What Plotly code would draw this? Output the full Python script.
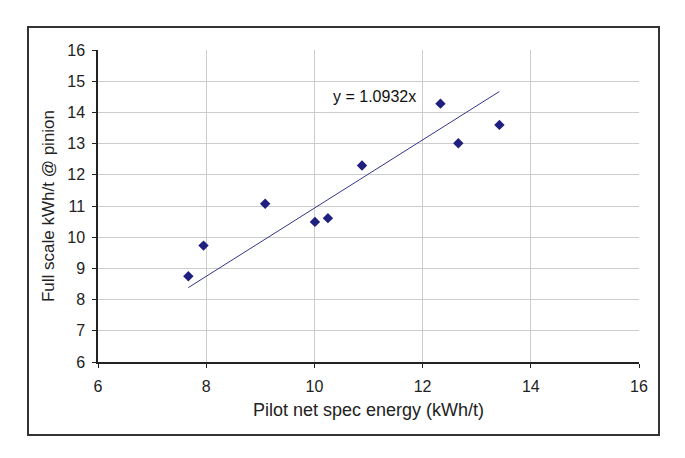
import plotly.graph_objects as go

pilot_x = [7.67, 7.95, 9.09, 10.01, 10.25, 10.88, 12.33, 12.66, 13.42]
full_y = [8.75, 9.73, 11.07, 10.49, 10.61, 12.30, 14.28, 13.01, 13.60]
slope = 1.0932
trend_x = [min(pilot_x), max(pilot_x)]
trend_y = [slope * v for v in trend_x]
x_ticks = [6, 8, 10, 12, 14, 16]
y_ticks = [6, 7, 8, 9, 10, 11, 12, 13, 14, 15, 16]

W, H = 685, 458
L, R, T, B = 98, 639, 50, 362
FONT = "Liberation Sans, Arial"

fig = go.Figure()
fig.add_trace(go.Scatter(x=trend_x, y=trend_y, mode="lines",
                         line=dict(color="#34348c", width=1), hoverinfo="skip"))
fig.add_trace(go.Scatter(x=pilot_x, y=full_y, mode="markers",
                         marker=dict(symbol="diamond", size=8, color="#1f1f7f")))

fig.add_annotation(x=11.12, y=14.5, text="y = 1.0932x", showarrow=False,
                   font=dict(size=16, color="#111111", family=FONT))

pw, ph = R - L, B - T
fig.add_shape(type="rect", xref="paper", yref="paper",
              x0=(28 - L) / pw, x1=(659 - L) / pw,
              y0=(B - 435) / ph, y1=(B - 27) / ph,
              line=dict(color="#333333", width=2), fillcolor="rgba(0,0,0,0)", layer="below")

axis_common = dict(showgrid=True, gridcolor="#cccccc", gridwidth=1,
                   showline=True, linecolor="#222222", linewidth=1.5,
                   ticks="outside", ticklen=4, tickcolor="#222222",
                   zeroline=False,
                   tickfont=dict(size=16, color="#222222", family=FONT))

fig.update_layout(
    width=W, height=H,
    margin=dict(l=L, r=W - R, t=T, b=H - B, pad=0),
    paper_bgcolor="white", plot_bgcolor="white",
    showlegend=False,
    xaxis=dict(range=[6, 16], tickvals=x_ticks, ticktext=[str(v) for v in x_ticks],
               ticklabelstandoff=5,
               title=dict(text="Pilot net spec energy (kWh/t)", standoff=9,
                          font=dict(size=18, color="#222222", family=FONT)),
               **axis_common),
    yaxis=dict(range=[6, 16], tickvals=y_ticks, ticktext=[str(v) for v in y_ticks],
               ticklabelstandoff=4,
               title=dict(text="Full scale kWh/t @ pinion", standoff=8,
                          font=dict(size=17, color="#222222", family=FONT)),
               **axis_common),
)
fig.write_html("out.html")
